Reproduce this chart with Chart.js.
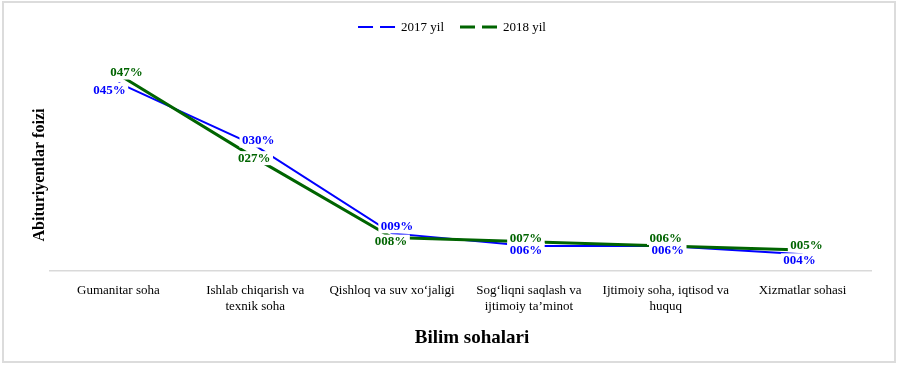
<!DOCTYPE html>
<html>
<head>
<meta charset="utf-8">
<script src="https://cdn.jsdelivr.net/npm/chart.js@4.4.1/dist/chart.umd.min.js"></script>
<style>
  html, body { margin:0; padding:0; background:#fff; }
  #wrap { position:relative; width:900px; height:367px; }
  #frame { position:absolute; left:2px; top:1px; width:894px; height:362px; box-sizing:border-box; border:2px solid #dcdcdc; pointer-events:none; }
</style>
</head>
<body>
<div id="wrap">
  <canvas id="chart" width="900" height="367"></canvas>
  <div id="frame"></div>
</div>
<script>
const categories = [
  ['Gumanitar soha'],
  ['Ishlab chiqarish va', 'texnik soha'],
  ['Qishloq va suv xo‘jaligi'],
  ['Sog‘liqni saqlash va', 'ijtimoiy ta’minot'],
  ['Ijtimoiy soha, iqtisod va', 'huquq'],
  ['Xizmatlar sohasi']
];
const yil2017 = [0.45, 0.30, 0.09, 0.06, 0.06, 0.04];
const yil2018 = [0.47, 0.27, 0.08, 0.07, 0.06, 0.05];
const seriesNames = ['2017 yil', '2018 yil'];
const xTitle = 'Bilim sohalari';
const yTitle = 'Abituriyentlar foizi';

// where each value label sits relative to its point (px)
const labelShift2017 = [[-9, 7], [3, -5], [5, -7], [-3, 4], [2, 4], [-3, 6]];
const labelShift2018 = [[8, -2], [-1, 0], [-1, 4], [-3, -4], [0, -8], [4, -5]];

const serif = '"Liberation Serif", "Times New Roman", serif';

function fmt(v){
  return String(Math.round(v * 100)).padStart(3, '0') + '%';
}

// value labels on white boxes, like the Excel data labels
const pointLabels = {
  id:'pointLabels',
  afterDatasetsDraw(chart){
    const ctx = chart.ctx;
    ctx.save();
    ctx.font = 'bold 13px ' + serif;
    ctx.textAlign = 'center';
    ctx.textBaseline = 'middle';
    chart.data.datasets.forEach((ds, i) => {
      chart.getDatasetMeta(i).data.forEach((pt, j) => {
        const txt = fmt(ds.data[j]);
        const [dx, dy] = ds.labelShift[j];
        const x = pt.x + dx, y = pt.y + dy;
        const w = ctx.measureText(txt).width;
        ctx.fillStyle = '#fff';
        ctx.fillRect(x - w / 2 - 2.5, y - 7, w + 5, 14);
        ctx.fillStyle = ds.borderColor;
        ctx.fillText(txt, x, y + 0.5);
      });
    });
    ctx.restore();
  }
};

// legend with dashed line samples, plus the two axis titles
const dashLegend = {
  id:'dashLegend',
  afterDraw(chart){
    const ctx = chart.ctx;
    ctx.save();
    ctx.font = '13px ' + serif;
    const sample = 38, gap = 5, itemGap = 16, y = 27;
    const items = chart.data.datasets.map(ds => ({ ds, w: sample + gap + ctx.measureText(ds.label).width }));
    const total = items.reduce((s, it) => s + it.w, 0) + itemGap * (items.length - 1);
    let x = chart.width / 2 + 2 - total / 2;
    items.forEach(it => {
      ctx.strokeStyle = it.ds.borderColor;
      ctx.lineWidth = it.ds.borderWidth;
      ctx.setLineDash([15, 7]);
      ctx.beginPath();
      ctx.moveTo(x, y);
      ctx.lineTo(x + sample, y);
      ctx.stroke();
      ctx.setLineDash([]);
      ctx.fillStyle = '#000';
      ctx.textAlign = 'left';
      ctx.textBaseline = 'middle';
      ctx.fillText(it.ds.label, x + sample + gap, y + 1);
      x += it.w + itemGap;
    });

    ctx.fillStyle = '#000';
    ctx.textAlign = 'center';
    ctx.textBaseline = 'middle';
    ctx.font = 'bold 19px ' + serif;
    ctx.fillText(xTitle, 472, 338);
    ctx.translate(40, 175);
    ctx.rotate(-Math.PI / 2);
    ctx.font = 'bold 16px ' + serif;
    ctx.fillText(yTitle, 0, 0);
    ctx.restore();
  }
};

new Chart(document.getElementById('chart').getContext('2d'), {
  type:'line',
  data:{
    labels: categories,
    datasets:[
      { label:seriesNames[0], data:yil2017, borderColor:'#0000ff', borderWidth:2, order:2, labelShift:labelShift2017 },
      { label:seriesNames[1], data:yil2018, borderColor:'#006400', borderWidth:3, order:1, labelShift:labelShift2018 }
    ]
  },
  options:{
    responsive:false,
    animation:false,
    events:[],
    elements:{ point:{ radius:0 }, line:{ tension:0, borderCapStyle:'butt' } },
    layout:{ padding:{ top:62, left:50, right:29, bottom:0 } },
    plugins:{ legend:{ display:false }, tooltip:{ enabled:false } },
    scales:{
      x:{
        offset:true,
        grid:{ display:false, drawTicks:false },
        border:{ display:true, color:'#d9d9d9', width:1.5 },
        ticks:{ color:'#000', padding:11, maxRotation:0, autoSkip:false, font:{ family:serif, size:13, lineHeight:1.25 } },
        afterFit(s){ s.height = 96; }
      },
      y:{
        display:false,
        min:0, max:0.5
      }
    }
  },
  plugins:[pointLabels, dashLegend]
});
</script>
</body>
</html>
